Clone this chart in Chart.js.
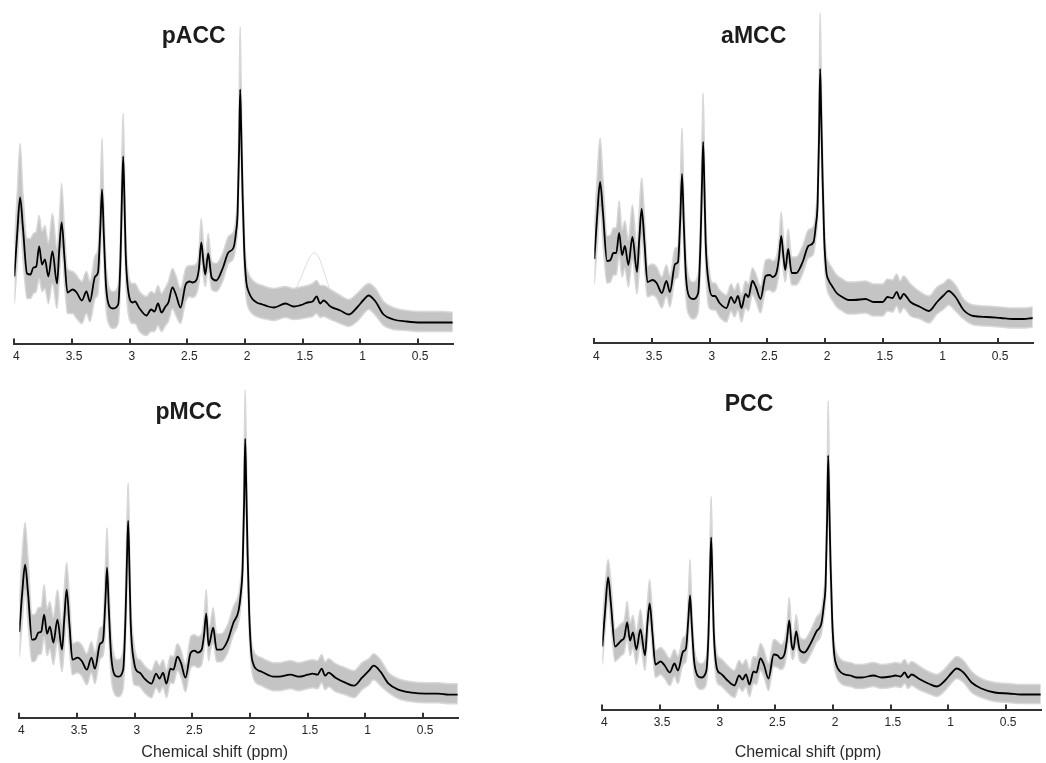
<!DOCTYPE html>
<html>
<head>
<meta charset="utf-8">
<script src="https://cdn.jsdelivr.net/npm/chart.js@4.4.1/dist/chart.umd.min.js"></script>
<style>
  html, body { margin: 0; padding: 0; background: #ffffff; }
  body { width: 1046px; height: 763px; position: relative; overflow: hidden; }
  canvas { position: absolute; }
</style>
</head>
<body>
<canvas id="c1" width="467" height="380"></canvas>
<canvas id="c2" width="467" height="380"></canvas>
<canvas id="c3" width="467" height="383"></canvas>
<canvas id="c4" width="467" height="383"></canvas>
<script>
// ---------------- DATA ----------------
const PPM = [4.000,3.975,3.950,3.925,3.890,3.860,3.835,3.810,3.785,3.760,
  3.735,3.705,3.670,3.630,3.610,3.590,3.565,3.540,3.495,3.460,
  3.415,3.375,3.345,3.300,3.275,3.255,3.240,3.225,3.205,3.175,
  3.145,3.100,3.080,3.068,3.057,3.046,3.035,3.005,2.975,2.955,
  2.915,2.855,2.815,2.785,2.755,2.725,2.690,2.665,2.630,2.600,
  2.560,2.515,2.480,2.455,2.420,2.400,2.380,2.360,2.345,2.320,
  2.290,2.250,2.195,2.145,2.100,2.080,2.065,2.052,2.043,2.034,
  2.022,2.008,1.990,1.970,1.940,1.900,1.850,1.800,1.750,1.650,
  1.580,1.500,1.460,1.415,1.380,1.350,1.320,1.260,1.175,1.100,
  1.030,0.970,0.930,0.870,0.800,0.715,0.600,0.480,0.370,0.280,0.200];

const PANEL_NAMES = ['pACC', 'aMCC', 'pMCC', 'PCC'];
const TICK_VALUES = [4, 3.5, 3, 2.5, 2, 1.5, 1, 0.5];
const TICK_LABELS = ['4', '3.5', '3', '2.5', '2', '1.5', '1', '0.5'];
const X_TITLE = 'Chemical shift (ppm)';

const PACC_MEAN = [67,110,146,115,70,69,76,77,97,79, 84,67,92,60,95,121,85,51,54,51,
  43,52,42,67,71,115,154,110,57,37, 35,39,85,145,187,145,90,47,41,42,
  35,28,34,32,40,31,37,41,56,49, 36,59,62,61,64,75,101,80,69,90,
  66,63,75,91,96,110,131,195,254,215, 150,95,62,52,45,41,39,37,36,40,
  37,39,41,42,47,40,43,37,33,29, 36,44,48,42,29,24,22,21,21,21,21];
const PACC_UPPER = [100,150,200,150,105,105,110,112,128,112, 118,100,130,95,125,160,112,75,72,68,
  62,72,62,88,95,150,205,140,80,55, 52,58,110,185,230,180,115,65,60,60,
  52,47,52,50,58,50,56,62,75,68, 55,75,78,78,80,92,125,98,85,110,
  82,80,90,107,112,125,150,240,317,260, 180,115,80,70,64,60,58,56,55,57,
  55,57,58,60,63,58,58,54,48,44, 50,57,60,55,42,36,33,32,32,32,31];
const PACC_LOWER = [40,80,120,85,45,45,50,52,65,52, 55,40,60,35,65,95,60,30,30,25,
  20,30,22,45,50,85,130,85,35,18, 15,20,60,115,160,115,65,25,20,20,
  12,8,12,12,18,12,18,22,35,28, 20,42,47,46,50,60,85,65,57,75,
  54,52,62,80,85,97,115,170,230,190, 125,75,45,35,30,27,25,24,23,26,
  24,25,26,27,30,26,27,24,20,17, 22,30,34,28,18,14,13,12,12,12,12];
// one outlying pACC spectrum with a hump near 1.4 ppm
const PACC_OUTLIER_PPM = [1.66,1.60,1.52,1.45,1.40,1.36,1.30,1.24,1.18,1.12];
const PACC_OUTLIER = [40,46,65,84,91,86,66,46,36,31];

const AMCC_MEAN = [84,128,161,130,82,83,90,90,110,88, 97,78,106,71,105,134,100,61,63,60,
  50,62,51,79,81,125,169,120,65,46, 44,50,100,155,201,155,100,57,47,47,
  40,35,46,40,47,35,49,46,62,56, 44,67,68,66,71,85,107,85,73,94,
  70,70,81,97,101,118,140,210,274,230, 165,105,72,63,57,50,46,43,43,44,
  41,41,46,45,51,44,49,41,36,32, 41,48,52,46,33,27,26,25,24,24,25];
const AMCC_UPPER = [114,168,205,165, 107,108,115,115,142,113,122,103,138,96, 135,165,127,
  77,79,76,66,78,67,95,97, 160,215,150,88,64,61,69,125,195,250,190,125,75,
  60,60,53,48,59,53,60,48,62,59,75,69,57, 83,84,82,87,102,131,103,89,114,86,86,97,113,117,133,159,
  255,330,275,195,125, 90,81,75,68,64,61,61,62,59,59,64,63,69,62,67,59,
  51,47,56,60,64,58,44,38,37,36,35,35,36];
const AMCC_LOWER = [59,98,136,100, 60,61,68,68,88,66,75,56,84,49, 75,108,75,
  46,48,45,35,47,36,64,66, 95,145,95,43,27,24,31,75,125,174,125,75,35,
  33,33,26,21,32,26,33,21,35,32,48,42,30, 52,53,51,56,70,91,70,61,79,58,58,69,85,89,105,124,
  185,250,205,140,85, 58,49,43,36,32,29,29,30,27,27,32,31,37,30,35,27,
  24,20,29,34,38,32,24,18,17,16,15,15,16];

const PMCC_MEAN = [86,125,153,125,78,79,85,86,103,84, 91,75,98,68,100,128,92,58,60,57,
  48,60,49,74,77,115,150,110,63,43, 41,48,100,155,197,150,95,55,46,45,
  39,34,44,39,45,34,49,48,61,55, 40,65,67,65,68,82,104,72,78,90,
  68,68,77,95,107,125,150,215,279,235, 165,105,65,53,48,46,43,41,41,43,
  41,43,44,43,49,42,45,40,35,32, 40,47,52,46,34,28,25,24,24,23,23];
const PMCC_UPPER = [116,165,195,160, 103,104,110,111,133,109,116,100,128,93, 130,155,119,
  74,76,73,64,76,65,90,93, 150,190,140,86,61,58,67,125,195,235,185,120,73,
  59,58,52,47,57,52,58,47,62,61,74,68,53, 81,83,81,84,99,128,90,94,110,84,84,93,111,123,140,169,
  260,328,280,195,125, 79,67,62,60,57,55,55,57,55,57,58,57,63,56,59,54,
  50,47,55,59,64,58,45,39,36,35,35,34,34];
const PMCC_LOWER = [61,95,128,95, 56,57,63,64,81,62,69,53,76,46, 70,102,67,
  43,45,42,33,45,34,59,62, 85,126,85,41,24,21,29,75,125,170,120,70,33,
  32,31,25,20,30,25,31,20,35,34,47,41,26, 50,52,50,53,67,88,57,66,75,56,56,65,83,95,112,134,
  190,255,210,140,85, 51,39,34,32,29,27,27,29,27,29,30,29,35,28,31,26,
  23,20,28,33,38,32,25,19,16,15,15,14,14];

const PCC_MEAN = [63,100,132,105,63,66,69,72,87,69, 77,60,80,54,85,106,75,45,48,44,
  37,46,39,58,61,90,114,85,49,34, 32,38,75,130,172,130,80,40,36,34,
  29,24,34,30,35,25,38,37,51,45, 31,55,54,51,56,70,89,65,60,78,
  60,57,66,78,87,105,125,190,254,210, 145,90,55,44,38,35,34,32,32,34,
  32,33,34,33,37,32,35,31,26,23, 29,37,41,37,27,21,17,16,15,15,15];
const PCC_UPPER = [85,125,150,128, 80,83,86,89,108,86,94,77,100,71, 105,130,95,
  59,62,58,51,60,53,72,75, 112,150,105,65,48,46,52,95,165,213,160,98,55,
  51,49,44,39,49,45,50,40,53,52,66,60,46, 70,68,65,70,85,112,80,73,95,73,70,79,92,101,119,142,
  230,309,250,170,107, 68,57,51,48,47,45,45,47,45,46,47,46,50,45,48,44,
  38,35,41,49,53,49,38,31,27,26,25,25,25];
const PCC_LOWER = [45,80,112,85, 48,51,54,57,72,54,62,45,65,39, 68,88,58,
  32,35,31,24,33,26,45,48, 70,95,68,35,22,20,25,58,108,150,108,62,27,
  24,22,17,12,22,18,23,13,26,25,39,33,19, 43,42,40,44,57,75,53,50,65,49,46,55,67,76,93,110,
  168,232,188,122,72, 44,33,27,24,23,21,21,23,21,22,23,22,26,21,24,20,
  16,13,19,27,31,27,17,12,8,7,6,6,6];

// ---------------- LAYOUT (pixels) ----------------
const FONT = '"Liberation Sans", Arial, Helvetica, sans-serif';
const LAYOUT = [
  { id: 'c1', left: 0.3,   top: 0,   yMax: 343.5, scaleH: 36.5, tx: 193.7, ty: 43, xl: null },
  { id: 'c2', left: 580.3, top: 0,   yMax: 343.0, scaleH: 37.0, tx: 173.7, ty: 43, xl: null },
  { id: 'c3', left: 5.3,   top: 380, yMax: 337.7, scaleH: 45.3, tx: 183.7, ty: 39, xl: { x: 209.7, y: 373 } },
  { id: 'c4', left: 588.0, top: 380, yMax: 329.5, scaleH: 53.5, tx: 161.0, ty: 31, xl: { x: 220.0, y: 373 } }
];
const SERIES = [
  { mean: PACC_MEAN, upper: PACC_UPPER, lower: PACC_LOWER, outPpm: PACC_OUTLIER_PPM, out: PACC_OUTLIER },
  { mean: AMCC_MEAN, upper: AMCC_UPPER, lower: AMCC_LOWER },
  { mean: PMCC_MEAN, upper: PMCC_UPPER, lower: PMCC_LOWER },
  { mean: PCC_MEAN,  upper: PCC_UPPER,  lower: PCC_LOWER }
];

const toXY = (xs, ys) => xs.map((x, i) => ({ x: x, y: ys[i] }));

const textPlugin = {
  id: 'panelText',
  afterDraw(chart, args, opts) {
    const ctx = chart.ctx;
    ctx.save();
    ctx.fillStyle = '#1c1c1c';
    ctx.textAlign = 'center';
    ctx.textBaseline = 'alphabetic';
    ctx.font = 'bold 23px ' + FONT;
    ctx.fillText(opts.title, opts.tx, opts.ty);
    if (opts.xl) {
      ctx.fillStyle = '#2a2a2a';
      ctx.font = '16px ' + FONT;
      ctx.textBaseline = 'middle';
      ctx.fillText(X_TITLE, opts.xl.x, opts.xl.y);
    }
    ctx.restore();
  }
};

LAYOUT.forEach((L, k) => {
  const S = SERIES[k];
  const cv = document.getElementById(L.id);
  cv.style.left = L.left + 'px';
  cv.style.top = L.top + 'px';

  const common = { pointRadius: 0, cubicInterpolationMode: 'monotone' };
  const datasets = [
    Object.assign({ // mean spectrum (drawn on top)
      data: toXY(PPM, S.mean), borderColor: '#000000', borderWidth: 1.8, fill: false
    }, common),
    Object.assign({ // upper envelope of individual spectra
      data: toXY(PPM, S.upper), borderColor: '#d8d8d8', borderWidth: 1.5, fill: false
    }, common),
    Object.assign({ // lower envelope, filled up to the upper one
      data: toXY(PPM, S.lower), borderColor: '#d8d8d8', borderWidth: 1.5,
      fill: '-1', backgroundColor: '#c4c4c4'
    }, common)
  ];
  if (S.out) {
    datasets.push({
      data: toXY(S.outPpm, S.out), borderColor: '#d4d4d4', borderWidth: 0.8,
      pointRadius: 0, fill: false, tension: 0.3
    });
  }

  new Chart(cv, {
    type: 'line',
    data: { datasets },
    plugins: [textPlugin],
    options: {
      responsive: false,
      animation: false,
      events: [],
      layout: { padding: { left: 12, right: 14.2, top: 0, bottom: 0 } },
      plugins: {
        legend: { display: false },
        tooltip: { enabled: false },
        title: { display: false },
        panelText: { title: PANEL_NAMES[k], tx: L.tx, ty: L.ty, xl: L.xl }
      },
      scales: {
        x: {
          type: 'linear',
          reverse: true,
          min: 0.2,
          max: 4.0,
          afterBuildTicks: (s) => { s.ticks = TICK_VALUES.map(v => ({ value: v })); },
          afterFit: (s) => { s.height = L.scaleH; },
          ticks: {
            autoSkip: false, maxRotation: 0, minRotation: 0,
            padding: 11, labelOffset: 2, color: '#262626',
            font: { family: FONT, size: 12 },
            callback: (v, i) => TICK_LABELS[i]
          },
          grid: {
            display: true, drawOnChartArea: false, drawTicks: true,
            tickLength: -5, color: '#333333', lineWidth: 2
          },
          border: { display: true, color: '#333333', width: 2 }
        },
        y: {
          display: false,
          min: 0,
          max: L.yMax
        }
      }
    }
  });
});
</script>
</body>
</html>
